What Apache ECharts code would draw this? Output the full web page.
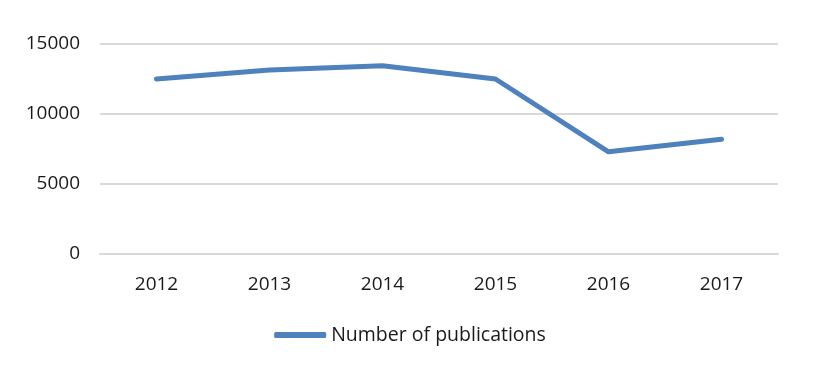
<!DOCTYPE html>
<html><head><meta charset="utf-8">
<script src="https://cdn.jsdelivr.net/npm/echarts@6/dist/echarts.min.js"></script>
<style>html,body{margin:0;padding:0;background:#fff}#c{width:820px;height:369px}</style>
</head><body><div id="c"></div>
<script>
const categories = ['2012','2013','2014','2015','2016','2017'];
const publications = [12500, 13150, 13450, 12500, 7300, 8200];
const yTicks = [0, 5000, 10000, 15000];
const seriesName = 'Number of publications';

const chart = echarts.init(document.getElementById('c'), null, {renderer:'canvas'});
const font = '"Open Sans", "Noto Sans", sans-serif';
chart.setOption({
  animation: false,
  textStyle: {fontFamily: font},
  grid: {left: 100, right: 42, top: 44, bottom: 115, containLabel: false},
  legend: {
    data: [{name: seriesName, icon: 'roundRect'}],
    top: 320, left: 'center',
    itemWidth: 52, itemHeight: 6, itemGap: 9,
    textStyle: {fontFamily: font, fontSize: 19.5, color: '#1a1a1a'}
  },
  xAxis: {
    type: 'category', data: categories, boundaryGap: true,
    axisLine: {show: true, lineStyle: {color: '#d9d9d9', width: 2}},
    axisTick: {show: false},
    axisLabel: {fontFamily: font, fontSize: 19, color: '#1a1a1a', margin: 21}
  },
  yAxis: {
    type: 'value', min: yTicks[0], max: yTicks[yTicks.length-1], interval: 5000,
    axisLine: {show: false}, axisTick: {show: false},
    splitLine: {lineStyle: {color: '#d9d9d9', width: 2}},
    axisLabel: {fontFamily: font, fontSize: 19, color: '#1a1a1a', margin: 20,
      formatter: v => String(v)}
  },
  series: [{
    name: seriesName, type: 'line', data: publications,
    showSymbol: false, symbol: 'none',
    lineStyle: {color: '#4f81bd', width: 5, cap: 'round', join: 'round'},
    itemStyle: {color: '#4f81bd'}
  }]
});
</script></body></html>
